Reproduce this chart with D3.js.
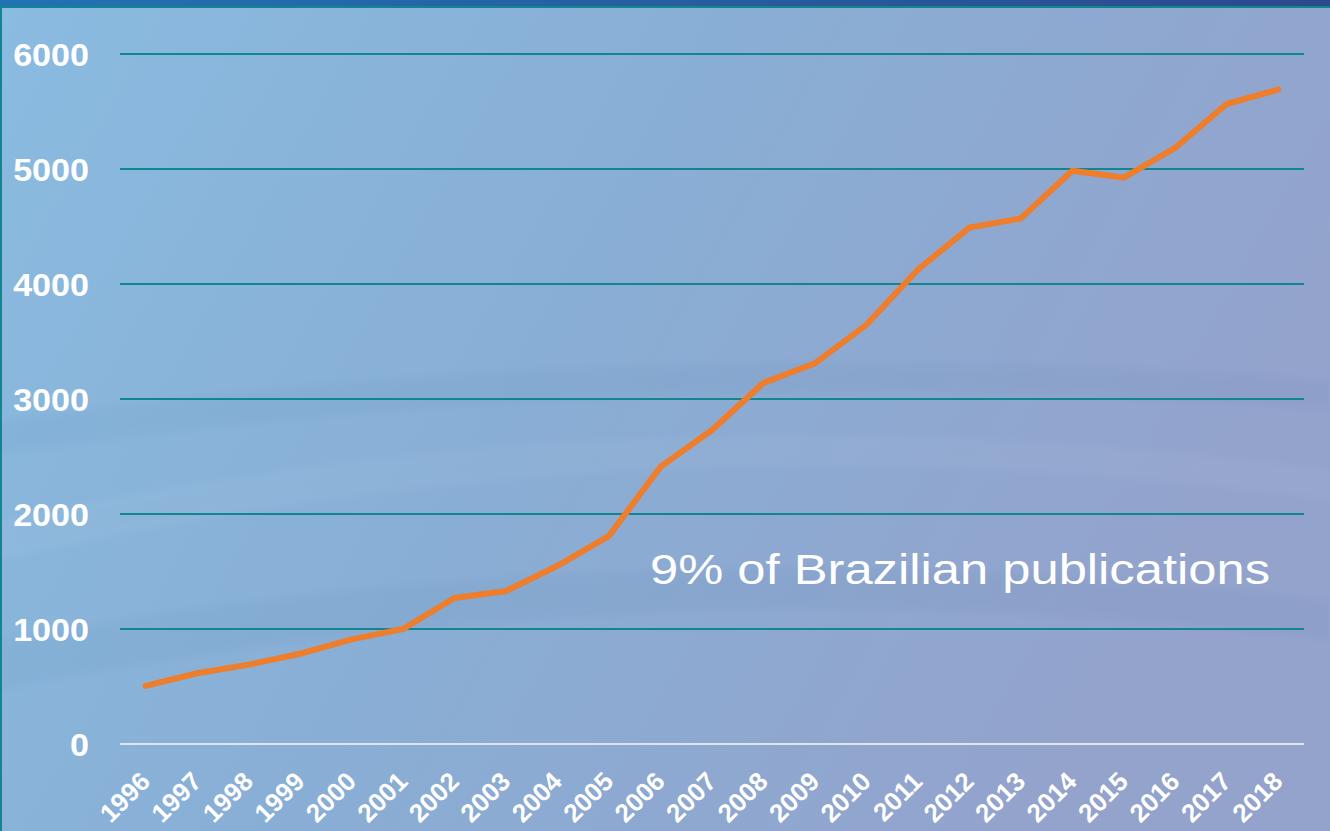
<!DOCTYPE html>
<html>
<head>
<meta charset="utf-8">
<script src="https://cdn.jsdelivr.net/npm/d3@7"></script>
<style>
  html, body { margin: 0; padding: 0; overflow: hidden; background: #8cb4d8; }
  svg { display: block; }
</style>
</head>
<body>
<svg id="chart" width="1330" height="831"></svg>
<script>
const years = ["1996","1997","1998","1999","2000","2001","2002","2003","2004","2005","2006","2007","2008","2009","2010","2011","2012","2013","2014","2015","2016","2017","2018"];
const publications = [505, 615, 690, 785, 910, 1000, 1270, 1330, 1550, 1810, 2410, 2730, 3140, 3310, 3645, 4125, 4490, 4570, 4985, 4925, 5185, 5565, 5690];
const yTicks = [0, 1000, 2000, 3000, 4000, 5000, 6000];
const annotation = "9% of Brazilian publications";

const W = 1330, H = 831;
const svg = d3.select("#chart");
const defs = svg.append("defs");

// background gradient
const bg = defs.append("linearGradient").attr("id", "bg").attr("x1", "0").attr("y1", "0").attr("x2", "1").attr("y2", "0.35");
bg.append("stop").attr("offset", "0%").attr("stop-color", "#8abbe0");
bg.append("stop").attr("offset", "50%").attr("stop-color", "#89aed5");
bg.append("stop").attr("offset", "100%").attr("stop-color", "#93a3cc");
const topbar = defs.append("linearGradient").attr("id", "topbar").attr("x1", "0").attr("x2", "1");
topbar.append("stop").attr("offset", "0%").attr("stop-color", "#2173b3");
topbar.append("stop").attr("offset", "100%").attr("stop-color", "#2b4a8c");
const blurF = defs.append("filter").attr("id", "soft").attr("x", "-10%").attr("y", "-10%").attr("width", "120%").attr("height", "120%");
blurF.append("feGaussianBlur").attr("stdDeviation", 3);

svg.append("rect").attr("width", W).attr("height", H).attr("fill", "url(#bg)");

// faint background texture (decorative arcs)
const tex = svg.append("g").attr("filter", "url(#soft)").attr("opacity", 0.035);
tex.append("path").attr("d", "M0,520 Q650,380 1330,470 L1330,500 Q650,410 0,560 Z").attr("fill", "#ffffff");
tex.append("path").attr("d", "M0,640 Q650,520 1330,600 L1330,640 Q650,560 0,690 Z").attr("fill", "#1f4f80");
tex.append("path").attr("d", "M0,420 Q650,330 1330,380 L1330,410 Q650,360 0,455 Z").attr("fill", "#1f4f80");

// top bar and borders
svg.append("rect").attr("x", 0).attr("y", 0).attr("width", W).attr("height", 7).attr("fill", "url(#topbar)");
svg.append("rect").attr("x", 0).attr("y", 6).attr("width", W).attr("height", 2).attr("fill", "#12868f");
svg.append("rect").attr("x", 0).attr("y", 6).attr("width", 2).attr("height", H).attr("fill", "#12868f");

const margin = { left: 120, right: 26, top: 54, bottom: 87 };
const x = d3.scaleBand().domain(years).range([margin.left, W - margin.right]).paddingInner(0).paddingOuter(0);
const y = d3.scaleLinear().domain([0, 6000]).range([H - margin.bottom, margin.top]);

// grid
const grid = svg.append("g");
grid.selectAll("line").data(yTicks.filter(d => d > 0)).join("line")
  .attr("x1", margin.left).attr("x2", W - margin.right)
  .attr("y1", d => y(d)).attr("y2", d => y(d))
  .attr("stroke", "#10868e").attr("stroke-width", 2);
svg.append("line").attr("x1", margin.left).attr("x2", W - margin.right)
  .attr("y1", y(0)).attr("y2", y(0)).attr("stroke", "#dfe4ec").attr("stroke-width", 2);

// y axis labels
const yAxis = d3.axisLeft(y).tickValues(yTicks).tickSize(0).tickPadding(0).tickFormat(d3.format("d"));
const ya = svg.append("g").attr("transform", `translate(89,0)`).call(yAxis);
ya.select(".domain").remove();
ya.selectAll("text").attr("fill", "#ffffff").attr("font-family", "Liberation Sans, Arial, sans-serif")
  .attr("font-weight", "bold").attr("font-size", 31).attr("dy", "0.36em")
  .attr("transform", "scale(1.1,1)");

// x axis labels
const xAxis = d3.axisBottom(x).tickSize(0).tickPadding(0);
const xa = svg.append("g").attr("transform", `translate(0,${y(0)})`).call(xAxis);
xa.select(".domain").remove();
xa.selectAll("text").attr("fill", "#ffffff").attr("font-family", "Liberation Sans, Arial, sans-serif")
  .attr("font-weight", "bold").attr("font-size", 26)
  .attr("text-anchor", "end").attr("dy", null).attr("y", 0)
  .attr("transform", "translate(6,39) rotate(-45)");

// line
const line = d3.line().x((d, i) => x(years[i]) + x.bandwidth() / 2).y(d => y(d));
svg.append("path").datum(publications).attr("d", line)
  .attr("fill", "none").attr("stroke", "#ee7d2c").attr("stroke-width", 6)
  .attr("stroke-linejoin", "miter").attr("stroke-linecap", "round");

// annotation
svg.append("text").attr("x", 650).attr("y", 584).text(annotation)
  .attr("fill", "#ffffff").attr("font-family", "Liberation Sans, Arial, sans-serif")
  .attr("font-size", 43).attr("textLength", 620).attr("lengthAdjust", "spacingAndGlyphs");
</script>
</body>
</html>
